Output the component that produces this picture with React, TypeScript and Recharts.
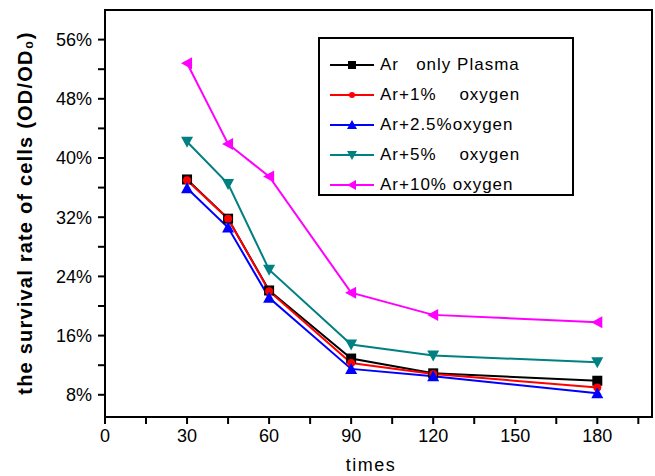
import React from 'react'
import { Label, Line, LineChart, ReferenceArea, XAxis, YAxis } from 'recharts'

const times = [30, 45, 60, 90, 120, 180]
const arOnly = [37.1, 31.8, 22.1, 12.9, 10.9, 9.9]
const ar1 = [37.0, 31.8, 22.0, 12.3, 10.8, 9.0]
const ar25 = [35.9, 30.6, 21.1, 11.5, 10.5, 8.2]
const ar5 = [42.2, 36.5, 24.9, 14.8, 13.3, 12.4]
const ar10 = [52.8, 41.9, 37.5, 21.8, 18.8, 17.8]

const xTicks = [0, 15, 30, 45, 60, 75, 90, 105, 120, 135, 150, 165, 180, 195]
const yTicks = [8, 12, 16, 20, 24, 28, 32, 36, 40, 44, 48, 52, 56]

const seriesList = [
  { key: 'arOnly', name: 'Ar   only Plasma', color: '#000000', shape: 'square', values: arOnly },
  { key: 'ar1', name: 'Ar+1%    oxygen', color: '#ff0000', shape: 'circle', values: ar1 },
  { key: 'ar25', name: 'Ar+2.5%oxygen', color: '#0000ff', shape: 'up', values: ar25 },
  { key: 'ar5', name: 'Ar+5%    oxygen', color: '#008080', shape: 'down', values: ar5 },
  { key: 'ar10', name: 'Ar+10% oxygen', color: '#ff00ff', shape: 'left', values: ar10 },
]

const data = times.map((t, i) => {
  const row: Record<string, number> = { t }
  seriesList.forEach((s) => {
    row[s.key] = s.values[i]
  })
  return row
})

const font = 'Arial, "Liberation Sans", sans-serif'

function Marker({ cx, cy, shape, color, r = 5 }: any) {
  if (cx == null || cy == null) return null
  if (shape === 'square') return <rect x={cx - r} y={cy - r} width={r * 2} height={r * 2} fill={color} />
  if (shape === 'circle') return <circle cx={cx} cy={cy} r={r - 1} fill={color} />
  if (shape === 'up')
    return <polygon points={`${cx},${cy - r - 1} ${cx - r - 1},${cy + r} ${cx + r + 1},${cy + r}`} fill={color} />
  if (shape === 'down')
    return <polygon points={`${cx},${cy + r + 1} ${cx - r - 1},${cy - r} ${cx + r + 1},${cy - r}`} fill={color} />
  return <polygon points={`${cx - r - 1},${cy} ${cx + r},${cy - r - 1} ${cx + r},${cy + r + 1}`} fill={color} />
}

// legend drawn as an overlay so it doesn't eat into the plot area
function LegendBox() {
  return (
    <div
      style={{
        position: 'absolute',
        left: 318,
        top: 37,
        width: 256,
        height: 159,
        border: '2px solid #000',
        background: '#fff',
        fontFamily: font,
        fontSize: 17,
        letterSpacing: 1,
        paddingTop: 11,
        boxSizing: 'border-box',
      }}
    >
      {seriesList.map((s) => (
        <div key={s.key} style={{ display: 'flex', alignItems: 'center', height: 30, whiteSpace: 'pre' }}>
          <svg width={60} height={20}>
            <line x1={10} y1={10} x2={54} y2={10} stroke={s.color} strokeWidth={2} />
            <Marker cx={32} cy={10} shape={s.shape} color={s.color} r={4} />
          </svg>
          <span>{s.name}</span>
        </div>
      ))}
    </div>
  )
}

export default function App() {
  return (
    <div style={{ position: 'absolute', left: 0, top: 0, width: 655, height: 476, background: '#fff' }}>
      <LineChart width={655} height={476} data={data} margin={{ top: 10, right: 3, left: 0, bottom: 0 }}>
        <XAxis
          dataKey="t"
          type="number"
          domain={[0, 200]}
          ticks={xTicks}
          interval={0}
          height={59}
          tickSize={7}
          tickMargin={5}
          axisLine={{ stroke: '#000', strokeWidth: 2 }}
          tickLine={{ stroke: '#000', strokeWidth: 2 }}
          tick={{ fontSize: 18, fill: '#000', fontFamily: font }}
          tickFormatter={(v: number) => (v % 30 === 0 ? String(v) : '')}
        >
          <Label
            content={() => (
              <text
                x={371}
                y={471}
                textAnchor="middle"
                style={{ fontSize: 18, fill: '#000', fontFamily: font, letterSpacing: 1.5 }}
              >
                times
              </text>
            )}
          />
        </XAxis>
        <YAxis
          type="number"
          domain={[5, 60]}
          ticks={yTicks}
          interval={0}
          width={105}
          tickSize={7}
          tickMargin={6}
          axisLine={{ stroke: '#000', strokeWidth: 2 }}
          tickLine={{ stroke: '#000', strokeWidth: 2 }}
          tick={{ fontSize: 18, fill: '#000', fontFamily: font }}
          tickFormatter={(v: number) => (v % 8 === 0 ? `${v}%` : '')}
          allowDataOverflow
        >
          <Label
            content={() => (
              <text
                x={25}
                y={213}
                transform="rotate(-90 25 213)"
                textAnchor="middle"
                dominantBaseline="central"
                style={{ fontSize: 20, fontWeight: 'bold', fill: '#000', fontFamily: font, letterSpacing: 1.2 }}
              >
                the survival rate of cells (OD/OD₀)
              </text>
            )}
          />
        </YAxis>
        <ReferenceArea x1={0} x2={200} y1={5} y2={60} fill="none" stroke="#000" strokeWidth={2} ifOverflow="visible" />
        {seriesList.map((s) => (
          <Line
            key={s.key}
            dataKey={s.key}
            name={s.name}
            stroke={s.color}
            strokeWidth={2}
            isAnimationActive={false}
            dot={(p: any) => <Marker key={`${s.key}-${p.index}`} cx={p.cx} cy={p.cy} shape={s.shape} color={s.color} />}
            activeDot={false}
          />
        ))}
      </LineChart>
      <LegendBox />
    </div>
  )
}
